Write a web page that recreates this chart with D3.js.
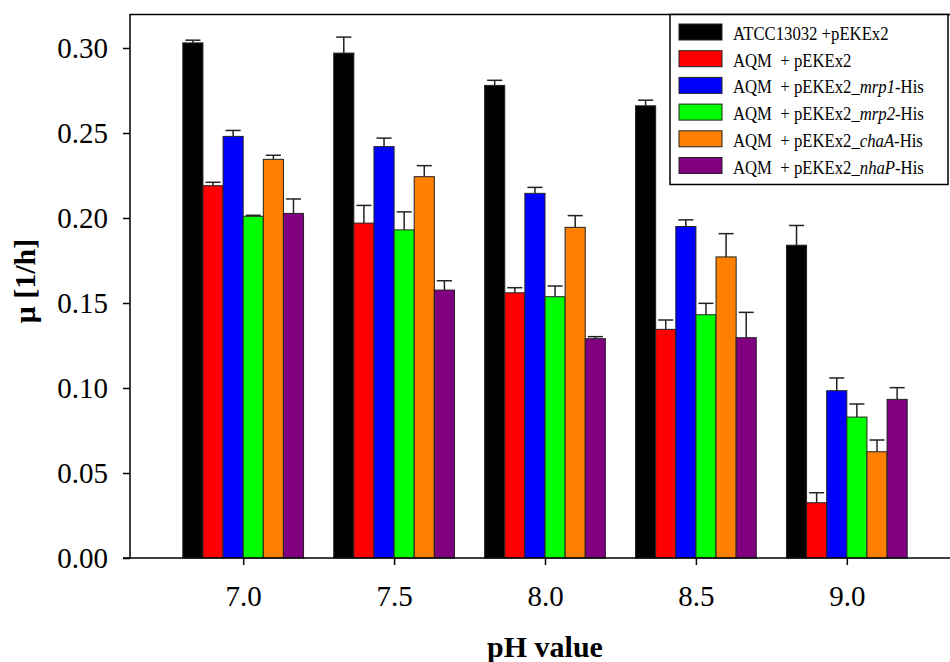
<!DOCTYPE html>
<html>
<head>
<meta charset="utf-8">
<script src="https://cdn.jsdelivr.net/npm/d3@7"></script>
<style>
  html, body { margin: 0; padding: 0; background: #fff; }
  text { font-family: "Liberation Serif", "Times New Roman", serif; fill: #000; }
</style>
</head>
<body>
<svg id="chart" width="950" height="662"></svg>
<script>
// pH groups on the x axis
const phValues = [7.0, 7.5, 8.0, 8.5, 9.0];
const phLabels = ["7.0", "7.5", "8.0", "8.5", "9.0"];

// growth rate µ [1/h] per strain, one entry per pH value
const atccMean = [0.303, 0.297, 0.278, 0.266, 0.184];
const atccErr  = [0.0016, 0.0094, 0.0030, 0.0033, 0.0116];
const aqmMean  = [0.219, 0.197, 0.156, 0.1345, 0.0325];
const aqmErr   = [0.0020, 0.0104, 0.0030, 0.0055, 0.0059];
const mrp1Mean = [0.248, 0.242, 0.2145, 0.195, 0.0984];
const mrp1Err  = [0.0035, 0.0050, 0.0035, 0.0039, 0.0075];
const mrp2Mean = [0.201, 0.193, 0.1537, 0.1431, 0.0829];
const mrp2Err  = [0.0006, 0.0106, 0.0063, 0.0067, 0.0077];
const chaAMean = [0.2345, 0.2243, 0.1945, 0.1771, 0.0625];
const chaAErr  = [0.0024, 0.0065, 0.0069, 0.0137, 0.0069];
const nhaPMean = [0.2027, 0.1576, 0.1290, 0.1296, 0.0933];
const nhaPErr  = [0.0085, 0.0055, 0.0012, 0.0149, 0.0069];

// y tick values
const yTicks = [0.00, 0.05, 0.10, 0.15, 0.20, 0.25, 0.30];

// legend entries: plain prefix, italic gene name, suffix
const series = [
  { key: "atcc", pre: "ATCC13032 +pEKEx2", ital: "", post: "", color: "#000000", mean: atccMean, err: atccErr },
  { key: "aqm",  pre: "AQM  + pEKEx2", ital: "", post: "", color: "#ff0000", mean: aqmMean, err: aqmErr },
  { key: "mrp1", pre: "AQM  + pEKEx2_", ital: "mrp1", post: "-His", color: "#0000ff", mean: mrp1Mean, err: mrp1Err },
  { key: "mrp2", pre: "AQM  + pEKEx2_", ital: "mrp2", post: "-His", color: "#00ff00", mean: mrp2Mean, err: mrp2Err },
  { key: "chaA", pre: "AQM  + pEKEx2_", ital: "chaA", post: "-His", color: "#ff8000", mean: chaAMean, err: chaAErr },
  { key: "nhaP", pre: "AQM  + pEKEx2_", ital: "nhaP", post: "-His", color: "#800080", mean: nhaPMean, err: nhaPErr }
];

const svg = d3.select("#chart");
const plot = { left: 130, top: 14, right: 950, bottom: 558 };

const x = d3.scaleLinear().domain([6.625, 9.375]).range([plot.left, 960]);
const y = d3.scaleLinear().domain([0, 0.32]).range([plot.bottom, plot.top]);

// sub-band for the six bars within each pH group (offsets in pH units)
const sub = d3.scaleBand().domain(series.map(s => s.key)).range([-0.2, 0.2]);
const barW = x(sub.bandwidth()) - x(0);

const rows = [];
series.forEach(s => {
  phValues.forEach((ph, i) => {
    rows.push({ s, ph, v: s.mean[i], e: s.err[i] });
  });
});

const g = svg.append("g");

// bars
g.selectAll("rect.bar").data(rows).enter().append("rect")
  .attr("class", "bar")
  .attr("x", d => x(d.ph + sub(d.s.key)))
  .attr("y", d => y(d.v))
  .attr("width", barW)
  .attr("height", d => y(0) - y(d.v))
  .attr("fill", d => d.s.color)
  .attr("stroke", "#222")
  .attr("stroke-width", 1);

// upper error bars with caps
const capW = barW * 0.75;
const eb = g.selectAll("g.err").data(rows).enter().append("g").attr("class", "err");
eb.append("line")
  .attr("x1", d => x(d.ph + sub(d.s.key)) + barW / 2)
  .attr("x2", d => x(d.ph + sub(d.s.key)) + barW / 2)
  .attr("y1", d => y(d.v))
  .attr("y2", d => y(d.v + d.e))
  .attr("stroke", "#222").attr("stroke-width", 1.5);
eb.append("line")
  .attr("x1", d => x(d.ph + sub(d.s.key)) + barW / 2 - capW / 2)
  .attr("x2", d => x(d.ph + sub(d.s.key)) + barW / 2 + capW / 2)
  .attr("y1", d => y(d.v + d.e))
  .attr("y2", d => y(d.v + d.e))
  .attr("stroke", "#222").attr("stroke-width", 1.5);

// frame top line
svg.append("line")
  .attr("x1", plot.left).attr("x2", plot.right)
  .attr("y1", plot.top + 0.5).attr("y2", plot.top + 0.5)
  .attr("stroke", "#000").attr("stroke-width", 1.5);

// y axis
const yAxis = svg.append("g")
  .attr("transform", `translate(${plot.left},0)`)
  .call(d3.axisLeft(y).tickValues(yTicks).tickFormat(d3.format(".2f")).tickSize(7).tickPadding(15));
yAxis.select(".domain").attr("d", `M0,${plot.top}V${plot.bottom}`).attr("stroke-width", 1.5);
yAxis.selectAll(".tick line").attr("stroke-width", 1.5);
yAxis.selectAll(".tick text").attr("font-size", 29).attr("font-family", "Liberation Serif").attr("dy", "0.34em");

// x axis
const xAxis = svg.append("g")
  .attr("transform", `translate(0,${plot.bottom})`)
  .call(d3.axisBottom(x).tickValues(phValues).tickFormat((d, i) => phLabels[i]).tickSize(7).tickPadding(20));
xAxis.select(".domain").attr("d", `M${plot.left - 7},0H${plot.right}`).attr("stroke-width", 1.5);
xAxis.selectAll(".tick line").attr("stroke-width", 1.5);
xAxis.selectAll(".tick text").attr("font-size", 29).attr("font-family", "Liberation Serif");

// axis titles
svg.append("text")
  .attr("x", x(8.0)).attr("y", 657)
  .attr("text-anchor", "middle")
  .attr("font-size", 30).attr("font-weight", "bold")
  .text("pH value");

svg.append("text")
  .attr("transform", "translate(35,281) rotate(-90)")
  .attr("text-anchor", "middle")
  .attr("font-size", 30).attr("font-weight", "bold")
  .text("\u03bc [1/h]");

// legend
const leg = svg.append("g");
leg.append("rect")
  .attr("x", 670).attr("y", plot.top + 0.5)
  .attr("width", 278).attr("height", 170)
  .attr("fill", "#fff").attr("stroke", "#000").attr("stroke-width", 1.5);

const item = leg.selectAll("g.item").data(series).enter().append("g")
  .attr("class", "item")
  .attr("transform", (d, i) => `translate(0,${i * 26.7})`);
item.append("rect")
  .attr("x", 679).attr("y", 24)
  .attr("width", 43).attr("height", 16)
  .attr("fill", d => d.color)
  .attr("stroke", "#222").attr("stroke-width", 1);
// slightly condensed serif labels
const lt = item.append("text")
  .attr("transform", "translate(733,40) scale(0.88,1)")
  .attr("font-size", 19)
  .style("white-space", "pre");
lt.append("tspan").text(d => d.pre);
lt.append("tspan").attr("font-style", "italic").text(d => d.ital);
lt.append("tspan").text(d => d.post);
</script>
</body>
</html>
